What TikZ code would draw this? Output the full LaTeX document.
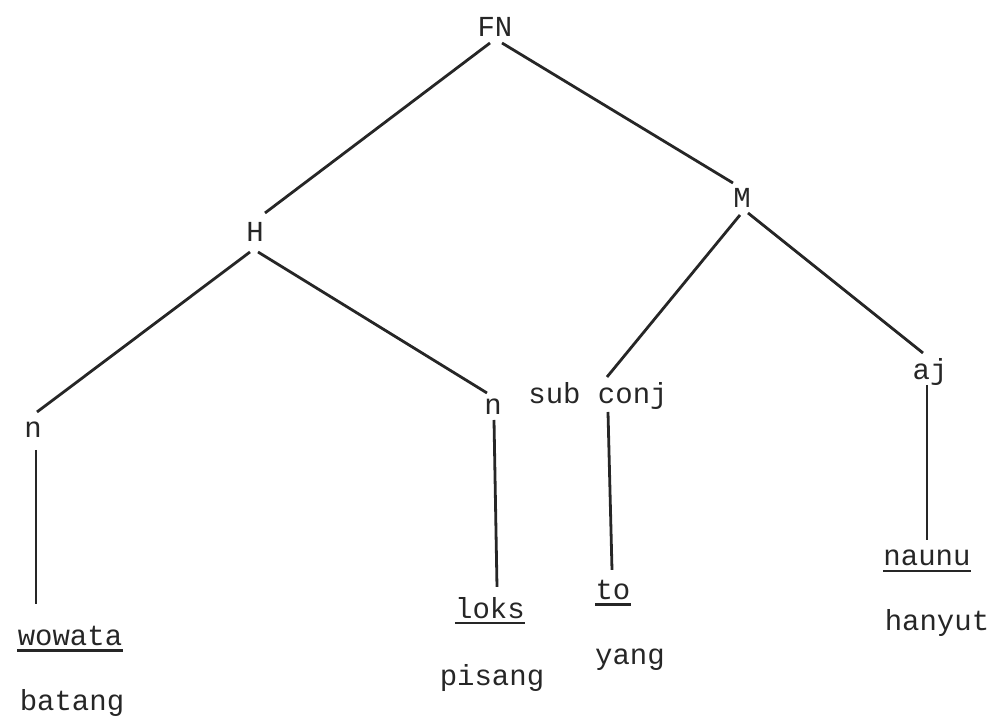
\documentclass[tikz,border=0pt]{standalone}
\usepackage{fontspec}
\setmainfont{Liberation Mono}
\usetikzlibrary{calc}
\begin{document}
\begin{tikzpicture}[x=0.5pt,y=-0.5pt,
  lab/.style={inner sep=0pt, font=\fontsize{14.5}{16}\selectfont, text=black!85},
  edge/.style={line width=1.4pt, black!85},
  ulin/.style={line width=1.1pt, black!85}]
\useasboundingbox (0,0) rectangle (993,726);
\node[lab] (FN) at (495,27) {FN};
\node[lab] (H) at (255,232) {H};
\node[lab] (M) at (742,198) {M};
\node[lab] (n1) at (33,430) {n};
\node[lab] (n2) at (493,407) {n};
\node[lab] (sc) at (598,396) {sub conj};
\node[lab] (aj) at (930,372) {aj};
\node[lab] (wowata) at (70,636) {wowata};
\node[lab] (batang) at (72,703) {batang};
\node[lab] (loks) at (490,608) {loks};
\node[lab] (pisang) at (492,678) {pisang};
\node[lab] (to) at (613,590) {to};
\node[lab] (yang) at (630,660) {yang};
\node[lab] (naunu) at (927,558) {naunu};
\node[lab] (hanyut) at (937,623) {hanyut};
% tree edges
\draw[edge] ($(FN)+(-5,16)$) -- ($(H)+(10,-19)$);
\draw[edge] ($(FN)+(7,16)$) -- ($(M)+(-9,-15)$);
\draw[edge] ($(H)+(-5,20)$) -- ($(n1)+(4,-18)$);
\draw[edge] ($(H)+(3,20)$) -- ($(n2)+(-6,-14)$);
\draw[edge] ($(M)+(-2,17)$) -- ($(sc)+(9,-19)$);
\draw[edge] ($(M)+(6,15)$) -- ($(aj)+(-7,-19)$);
\draw[edge] ($(n1)+(3,20)$) -- ($(wowata.north)+(-34,-22)$);
\draw[edge] ($(n2)+(1,13)$) -- ($(loks.north)+(7,-10)$);
\draw[edge] ($(sc)+(10,16)$) -- ($(to.north)+(-1,-10)$);
\draw[edge] ($(aj)+(-3,13)$) -- ($(naunu.north)+(0,-10)$);
% underlines
\foreach \w in {wowata,loks,to,naunu}
  \draw[ulin] ([yshift=-2.5pt]\w.base west) -- ([yshift=-2.5pt]\w.base east);
\end{tikzpicture}
\end{document}
